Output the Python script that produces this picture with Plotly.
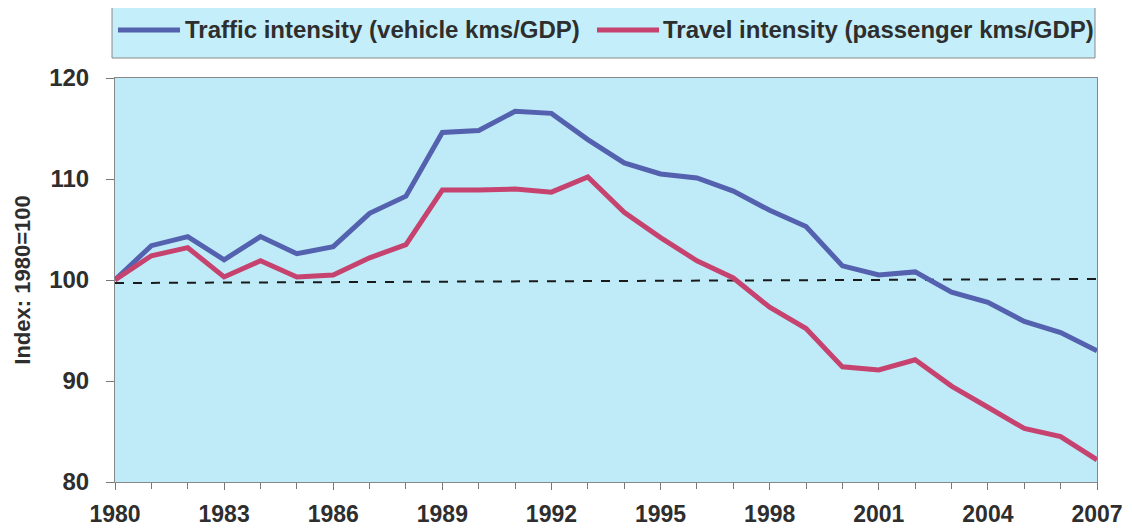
import plotly.graph_objects as go

years = list(range(1980, 2008))

traffic_intensity = [100.0, 103.4, 104.3, 102.0, 104.3, 102.6, 103.3, 106.6, 108.3, 114.6,
                     114.8, 116.7, 116.5, 113.9, 111.6, 110.5, 110.1, 108.8, 106.9, 105.3,
                     101.4, 100.5, 100.8, 98.8, 97.8, 95.9, 94.8, 93.0]

travel_intensity = [100.0, 102.4, 103.2, 100.3, 101.9, 100.3, 100.5, 102.2, 103.5, 108.9,
                    108.9, 109.0, 108.7, 110.2, 106.7, 104.2, 101.9, 100.2, 97.3, 95.2,
                    91.4, 91.1, 92.1, 89.5, 87.4, 85.3, 84.5, 82.2]

baseline_years = [1980, 2007]
baseline_values = [99.7, 100.1]

x_tick_years = list(range(1980, 2008, 3))
y_tick_values = [80, 90, 100, 110, 120]

series_names = ["Traffic intensity (vehicle kms/GDP)", "Travel intensity (passenger kms/GDP)"]

blue = "#5361AE"
red = "#C6436F"
bg = "#BFEBF8"
txt = "#2e2e2e"

# page body adds an 8px offset; figure sized to fit the window exactly
OFF = 8
W, H = 1132 - OFF, 528 - OFF
ML, MT = 115 - OFF, 78 - OFF
MR = W - (1097 - OFF)
MB = H - (482 - OFF)
PW, PH = W - ML - MR, H - MT - MB


def px_x(px):
    # px is a window-pixel x position
    return (px - OFF - ML) / PW


def px_y(py):
    return (H - MB - (py - OFF)) / PH


fig = go.Figure()
fig.add_trace(go.Scatter(x=baseline_years, y=baseline_values, mode="lines",
                         line=dict(color="#1a1a1a", width=2, dash="dash"),
                         showlegend=False, hoverinfo="skip"))
fig.add_trace(go.Scatter(x=years, y=traffic_intensity, mode="lines",
                         name=series_names[0], showlegend=False,
                         line=dict(color=blue, width=5)))
fig.add_trace(go.Scatter(x=years, y=travel_intensity, mode="lines",
                         name=series_names[1], showlegend=False,
                         line=dict(color=red, width=5)))

# Legend box drawn manually
shapes = [
    dict(type="rect", xref="paper", yref="paper",
         x0=px_x(112), x1=px_x(1095), y0=px_y(58), y1=px_y(5),
         fillcolor="#C4EEF9", line=dict(color="#8a8a8a", width=1), layer="above"),
    dict(type="line", xref="paper", yref="paper",
         x0=px_x(118), x1=px_x(180), y0=px_y(30), y1=px_y(30),
         line=dict(color=blue, width=5), layer="above"),
    dict(type="line", xref="paper", yref="paper",
         x0=px_x(597), x1=px_x(659), y0=px_y(30), y1=px_y(30),
         line=dict(color=red, width=5), layer="above"),
]
annotations = [
    dict(xref="paper", yref="paper", x=px_x(183), y=px_y(30), xanchor="left", yanchor="middle",
         text=series_names[0], showarrow=False,
         font=dict(family="Liberation Sans, Arial, sans-serif", size=24, color=txt, weight="bold")),
    dict(xref="paper", yref="paper", x=px_x(661), y=px_y(30), xanchor="left", yanchor="middle",
         text=series_names[1], showarrow=False,
         font=dict(family="Liberation Sans, Arial, sans-serif", size=24, color=txt, weight="bold")),
]

tickfont = dict(family="Liberation Sans, Arial, sans-serif", size=23, color=txt, weight="bold")

fig.update_layout(
    width=W, height=H,
    margin=dict(l=ML, r=MR, t=MT, b=MB),
    paper_bgcolor="white",
    plot_bgcolor=bg,
    showlegend=False,
    font=dict(family="Liberation Sans, Arial, sans-serif", color=txt),
    shapes=shapes,
    annotations=annotations,
    xaxis=dict(
        range=[1980, 2007], automargin=False,
        tickmode="array", tickvals=x_tick_years, ticktext=[str(v) for v in x_tick_years],
        ticks="outside", ticklen=7, tickcolor="#777", ticklabelstandoff=4,
        minor=dict(dtick=1, tick0=1980, ticks="outside", ticklen=6, tickcolor="#777", showgrid=False),
        showgrid=False, zeroline=False,
        showline=True, linecolor="#888", linewidth=1, mirror=True,
        tickfont=tickfont,
    ),
    yaxis=dict(
        range=[80, 120], automargin=False,
        tickmode="array", tickvals=y_tick_values,
        ticks="outside", ticklen=8, tickcolor="#777", ticklabelstandoff=12,
        showgrid=False, zeroline=False,
        showline=True, linecolor="#888", linewidth=1, mirror=True,
        tickfont=dict(family="Liberation Sans, Arial, sans-serif", size=24, color=txt, weight="bold"),
        title=dict(text="Index: 1980=100", standoff=12,
                   font=dict(family="Liberation Sans, Arial, sans-serif", size=22, color=txt, weight="bold")),
    ),
)

fig.write_html("out.html")
